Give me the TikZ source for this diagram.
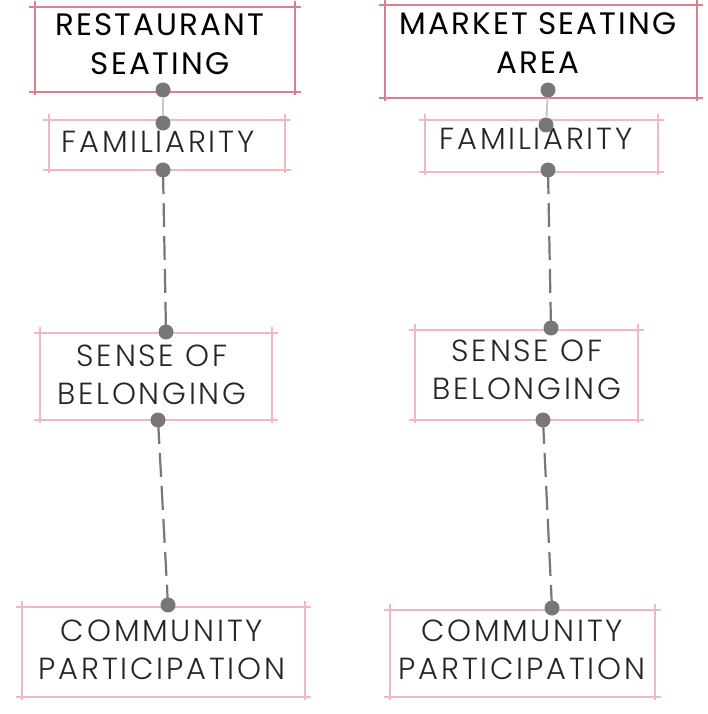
\documentclass[tikz,border=0pt]{standalone}
\usepackage{fontspec}
\setmainfont{Poppins}
\newfontfamily\headfont[LetterSpace=7]{Poppins}
\newfontfamily\lightfont[LetterSpace=9]{Poppins Light}
\definecolor{pinkA}{HTML}{D9808F}
\definecolor{pinkB}{HTML}{EFB9BE}
\definecolor{dotgray}{HTML}{777777}
\tikzset{
  head/.style={align=center, font=\headfont\fontsize{31}{39}\selectfont, text=black, inner sep=0pt},
  sub/.style={align=center, font=\lightfont\fontsize{30.5}{38}\selectfont, text=black!85, inner sep=0pt},
  dot/.style={circle, fill=dotgray, inner sep=0pt, minimum size=15pt},
  dashconn/.style={dotgray, line width=2.2pt, dash pattern=on 24pt off 9pt},
  faintconn/.style={dotgray!40, line width=2pt},
}
\newcommand{\sketchbox}[3]{% color, width, node
  \draw[#1, line width=#2, shorten <=-6pt, shorten >=-6pt] (#3.north west) -- (#3.north east);
  \draw[#1, line width=#2, shorten <=-6pt, shorten >=-6pt] (#3.south west) -- (#3.south east);
  \draw[#1, line width=#2, shorten <=-6pt, shorten >=-3pt] (#3.north west) -- (#3.south west);
  \draw[#1, line width=#2, shorten <=-6pt, shorten >=-3pt] (#3.north east) -- (#3.south east);
}
\begin{document}
\begin{tikzpicture}[x=1pt,y=-1pt]
\useasboundingbox[fill=white] (0,0) rectangle (708,714);
% left column
\node[minimum width=260pt, minimum height=85pt] (L1) at (165,49.5) {};
\node[head] (L1t) at (160,44) {RESTAURANT\\SEATING};
\node[minimum width=235pt, minimum height=50pt] (L2) at (167,145) {};
\node[sub] (L2t) at (158,142) {FAMILIARITY};
\node[minimum width=232pt, minimum height=87pt] (L3) at (156,376.5) {};
\node[sub] (L3t) at (152,375) {SENSE OF\\BELONGING};
\node[minimum width=283pt, minimum height=90pt] (L4) at (163.5,652) {};
\node[sub] (L4t) at (162,650) {COMMUNITY\\PARTICIPATION};
% right column
\node[minimum width=312pt, minimum height=93pt] (R1) at (541,51.5) {};
\node[head] (R1t) at (538,43) {MARKET SEATING\\AREA};
\node[minimum width=233pt, minimum height=52pt] (R2) at (541.5,146) {};
\node[sub] (R2t) at (536,139) {FAMILIARITY};
\node[minimum width=223pt, minimum height=90pt] (R3) at (526.5,375) {};
\node[sub] (R3t) at (527,370) {SENSE OF\\BELONGING};
\node[minimum width=265pt, minimum height=87pt] (R4) at (522.5,653.5) {};
\node[sub] (R4t) at (522,650) {COMMUNITY\\PARTICIPATION};
% sketched borders
\sketchbox{pinkA}{2.2pt}{L1}
\sketchbox{pinkB}{1.8pt}{L2}
\sketchbox{pinkB}{1.8pt}{L3}
\sketchbox{pinkB}{1.8pt}{L4}
\sketchbox{pinkA}{2.2pt}{R1}
\sketchbox{pinkB}{1.8pt}{R2}
\sketchbox{pinkB}{1.8pt}{R3}
\sketchbox{pinkB}{1.8pt}{R4}
% dots
\node[dot] (la) at (163,90) {};
\node[dot] (lb) at (163,123) {};
\node[dot] (lc) at (163,170) {};
\node[dot] (ld) at (166,332) {};
\node[dot] (le) at (158,420) {};
\node[dot] (lf) at (168,605) {};
\node[dot] (ra) at (548,90) {};
\node[dot] (rb) at (546,125) {};
\node[dot] (rc) at (548,170) {};
\node[dot] (rd) at (551,328) {};
\node[dot] (re) at (543,420) {};
\node[dot] (rf) at (552,608) {};
% connectors
\draw[faintconn] (la) -- (lb);
\draw[dashconn] (lc.center) -- (ld.center);
\draw[dashconn] (le.center) -- (lf.center);
\draw[faintconn] (ra) -- (rb);
\draw[dashconn] (rc.center) -- (rd.center);
\draw[dashconn] (re.center) -- (rf.center);
\end{tikzpicture}
\end{document}
